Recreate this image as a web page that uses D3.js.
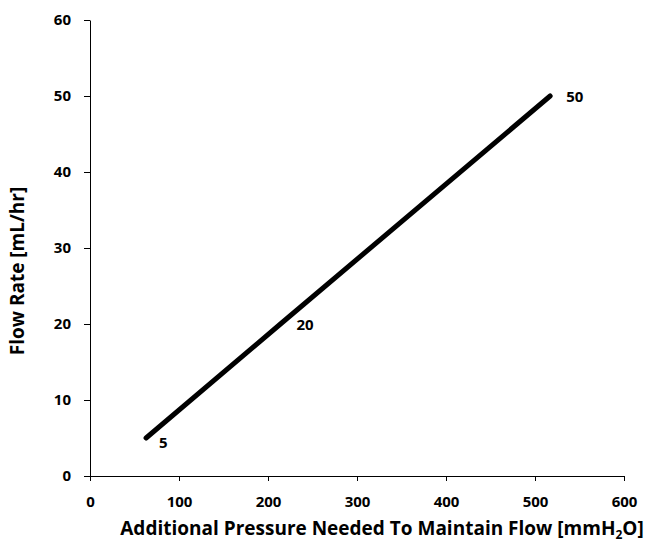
<!DOCTYPE html>
<html>
<head>
<meta charset="utf-8">
<script src="https://cdn.jsdelivr.net/npm/d3@7"></script>
<style>
  body { margin: 0; background: #fff; }
  text { font-family: "Open Sans", "DejaVu Sans", sans-serif; font-weight: bold; fill: #000; }
</style>
</head>
<body>
<div class="chart"></div>
<script>
var svgWidth = 656;
var svgHeight = 545;

var margin = { top: 20, right: 32, bottom: 69, left: 90 };

var width = svgWidth - margin.left - margin.right;
var height = svgHeight - margin.top - margin.bottom;

// data
var pressure = [63, 214, 517];
var flowRate = [5, 20, 50];
var pointLabels = ["5", "20", "50"];
var xTicks = [0, 100, 200, 300, 400, 500, 600];
var yTicks = [0, 10, 20, 30, 40, 50, 60];

var svg = d3.select(".chart")
  .append("svg")
  .attr("width", svgWidth)
  .attr("height", svgHeight);

var chartGroup = svg.append("g")
  .attr("transform", `translate(${margin.left}, ${margin.top})`);

var xLinearScale = d3.scaleLinear().domain([0, 600]).range([0, width]);
var yLinearScale = d3.scaleLinear().domain([0, 60]).range([height, 0]);

var bottomAxis = d3.axisBottom(xLinearScale).tickValues(xTicks).tickSize(5).tickSizeOuter(0).tickPadding(15);
var leftAxis = d3.axisLeft(yLinearScale).tickValues(yTicks).tickSize(6).tickSizeOuter(0).tickPadding(13);

var xAxis = chartGroup.append("g")
  .attr("transform", `translate(0, ${height})`)
  .call(bottomAxis);

var yAxis = chartGroup.append("g")
  .call(leftAxis);

[xAxis, yAxis].forEach(function(ax) {
  ax.select(".domain").attr("stroke", "#000").attr("stroke-width", 1);
  ax.selectAll(".tick line").attr("stroke", "#000");
  ax.selectAll(".tick text").attr("font-size", "15px");
});

var data = pressure.map((p, i) => ({ x: p, y: flowRate[i], label: pointLabels[i] }));

var line = d3.line()
  .x(d => xLinearScale(d.x))
  .y(d => yLinearScale(d.y));

chartGroup.append("path")
  .datum(data)
  .attr("d", line)
  .attr("fill", "none")
  .attr("stroke", "#000")
  .attr("stroke-width", 5)
  .attr("stroke-linecap", "round");

// point labels, to the right of each point
chartGroup.selectAll(".ptLabel")
  .data(data)
  .enter()
  .append("text")
  .attr("class", "ptLabel")
  .attr("x", d => xLinearScale(d.x) + (d.y === 5 ? 13 : 16))
  .attr("y", d => yLinearScale(d.y) + (d.y === 5 ? 10 : 6))
  .attr("font-size", "15px")
  .text(d => d.label);

// axis titles
var xTitle = chartGroup.append("text")
  .attr("x", 292)
  .attr("y", height + 59)
  .attr("text-anchor", "middle")
  .attr("font-size", "19px");
xTitle.append("tspan").text("Additional Pressure Needed To Maintain Flow [mmH");
xTitle.append("tspan").attr("font-size", "12px").attr("dy", 4).text("2");
xTitle.append("tspan").attr("dy", -4).text("O]");

chartGroup.append("text")
  .attr("transform", "rotate(-90)")
  .attr("x", 0 - 251)
  .attr("y", 0 - margin.left + 24)
  .attr("text-anchor", "middle")
  .attr("font-size", "19px")
  .text("Flow Rate [mL/hr]");
</script>
</body>
</html>
